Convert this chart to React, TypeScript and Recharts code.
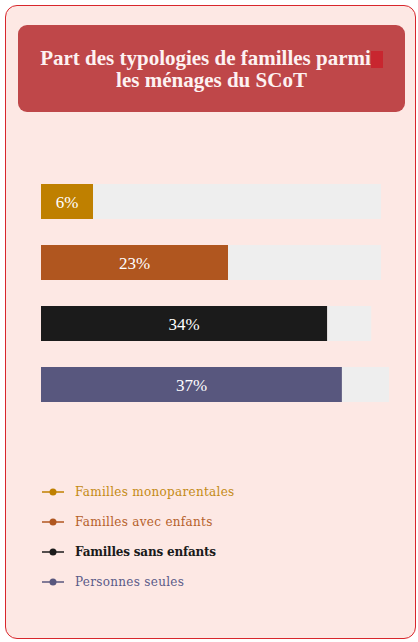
import React from "react";
import { BarChart, Bar, XAxis, YAxis, Cell, LabelList } from "recharts";

const categories = [
  "Familles monoparentales",
  "Familles avec enfants",
  "Familles sans enfants",
  "Personnes seules",
];
const values = [6.4, 23, 35.2, 37];
const valueLabels = ["6%", "23%", "34%", "37%"];
const trackValues = [41.8, 41.8, 40.6, 42.8];
const colors = ["#bf8000", "#b0561f", "#1b1b1b", "#58577e"];
const legendTextColors = ["#c48a14", "#b5602a", "#1a1a1a", "#5a5a88"];
const TRACK = "#eeeeee";

const data = categories.map((c, i) => ({
  name: c,
  value: values[i],
  rest: trackValues[i] - values[i],
  label: valueLabels[i],
}));

export default function App() {
  return (
    <div
      style={{
        position: "absolute",
        left: 0,
        top: 0,
        width: 418,
        height: 642,
        overflow: "hidden",
      }}
    >
      <div
        style={{
          position: "absolute",
          left: 5,
          top: 5,
          width: 409,
          height: 632,
          background: "#fde8e4",
          border: "1px solid #d8262c",
          borderRadius: 12,
        }}
      />
      <div
        style={{
          position: "absolute",
          left: 18,
          top: 25,
          width: 387,
          height: 87,
          background: "#bf4749",
          borderRadius: 9,
          display: "flex",
          alignItems: "center",
          justifyContent: "center",
          textAlign: "center",
          color: "#fdf2f2",
          fontFamily: "'Liberation Serif', serif",
          fontWeight: "bold",
          fontSize: 21,
          lineHeight: "22px",
        }}
      >
        <div>
          Part des typologies de familles parmi
          <span
            style={{
              display: "inline-block",
              width: 12,
              height: 17,
              background: "#c8262f",
              verticalAlign: "-3px",
            }}
          />
          <br />
          les ménages du SCoT
        </div>
      </div>
      <div style={{ position: "absolute", left: 0, top: 170 }}>
        <BarChart
          width={418}
          height={250}
          data={data}
          layout="vertical"
          margin={{ top: 1, right: 11, bottom: 5, left: 41 }}
          barSize={35}
        >
          <XAxis type="number" domain={[0, 45]} hide />
          <YAxis type="category" dataKey="name" hide width={0} />
          <Bar dataKey="value" stackId="a" isAnimationActive={false}>
            {data.map((d, i) => (
              <Cell key={i} fill={colors[i]} />
            ))}
            <LabelList
              dataKey="label"
              position="center"
              fill="#ffffff"
              style={{ fontFamily: "'Liberation Serif', serif", fontSize: 17 }}
            />
          </Bar>
          <Bar dataKey="rest" stackId="a" fill={TRACK} isAnimationActive={false} />
        </BarChart>
      </div>
      <div style={{ position: "absolute", left: 40, top: 477 }}>
        {categories.map((c, i) => (
          <div
            key={c}
            style={{ height: 30, display: "flex", alignItems: "center" }}
          >
            <svg width={26} height={10} style={{ marginRight: 9 }}>
              <line x1={2} y1={5} x2={24} y2={5} stroke={colors[i]} strokeWidth={1.5} />
              <circle cx={13} cy={5} r={3.5} fill={colors[i]} />
            </svg>
            <span
              style={{
                fontFamily: "'DejaVu Serif', serif",
                fontSize: 12,
                color: legendTextColors[i],
                fontWeight: i === 2 ? "bold" : "normal",
                letterSpacing: i === 2 ? -0.2 : 0.3,
              }}
            >
              {c}
            </span>
          </div>
        ))}
      </div>
    </div>
  );
}
